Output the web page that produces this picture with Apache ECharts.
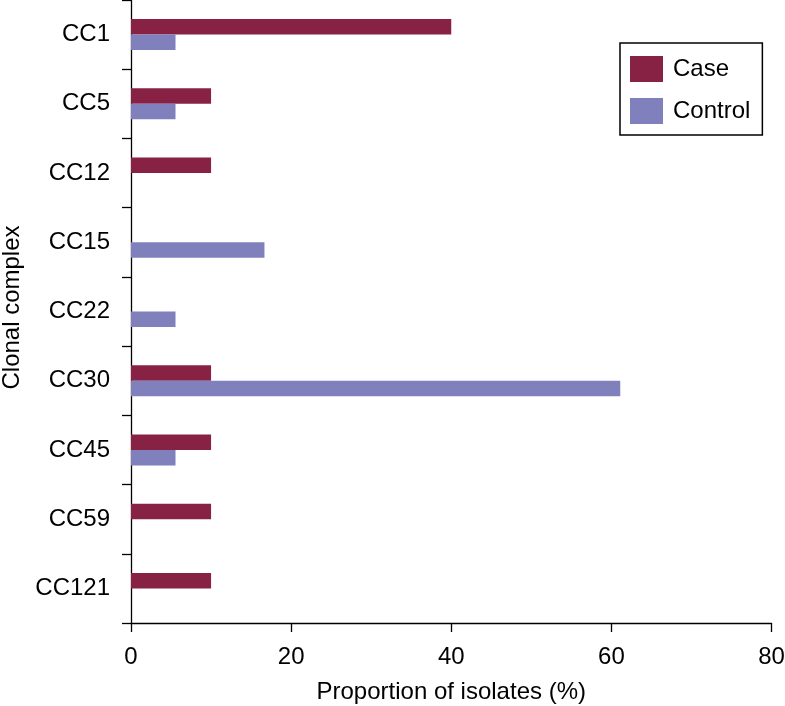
<!DOCTYPE html>
<html><head><meta charset="utf-8">
<script src="https://cdn.jsdelivr.net/npm/echarts@6/dist/echarts.min.js"></script>
<style>html,body{margin:0;padding:0;background:#fff}#c{width:785px;height:706px}</style>
</head><body><div id="c"></div>
<script>
const categories = ['CC1','CC5','CC12','CC15','CC22','CC30','CC45','CC59','CC121'];
const caseValues = [40, 10, 10, 0, 0, 10, 10, 10, 10];
const controlValues = [5.56, 5.56, 0, 16.67, 5.56, 61.11, 5.56, 0, 0];
const xTicks = [0, 20, 40, 60, 80];

const chart = echarts.init(document.getElementById('c'));
const font = 'Liberation Sans, Arial, Helvetica, sans-serif';
chart.setOption({
  animation: false,
  grid: {left: 131, right: 13.5, top: 0, bottom: 83, containLabel: false, outerBoundsMode: 'none'},
  legend: {
    orient: 'vertical', left: 620, top: 43,
    data: ['Case', 'Control'],
    itemWidth: 33, itemHeight: 26, itemGap: 16,
    padding: [13, 12, 11, 10],
    borderColor: '#000', borderWidth: 1.5,
    textStyle: {fontFamily: font, fontSize: 24, color: '#000', padding: [0, 0, 0, 5]},
    icon: 'rect'
  },
  xAxis: {
    type: 'value', min: xTicks[0], max: xTicks[xTicks.length - 1], interval: 20,
    name: 'Proportion of isolates (%)', nameLocation: 'middle', nameGap: 57,
    nameTextStyle: {fontFamily: font, fontSize: 24, color: '#000'},
    axisLine: {show: true, lineStyle: {color: '#000', width: 1.3}},
    axisTick: {show: true, length: 9, lineStyle: {color: '#000', width: 1.3}},
    axisLabel: {fontFamily: font, fontSize: 24, color: '#000', margin: 22},
    splitLine: {show: false}
  },
  yAxis: {
    type: 'category', data: categories, inverse: true,
    name: 'Clonal complex', nameLocation: 'middle', nameGap: 104,
    nameTextStyle: {fontFamily: font, fontSize: 24, color: '#000', padding: [0, 0, 0, 8]},
    axisLine: {show: true, lineStyle: {color: '#000', width: 1.3}},
    axisTick: {show: true, length: 9, alignWithLabel: false, lineStyle: {color: '#000', width: 1.3}},
    axisLabel: {fontFamily: font, fontSize: 24, color: '#000', margin: 21, padding: [5, 0, 0, 0]}
  },
  series: [
    {name: 'Case', type: 'bar', data: caseValues, barWidth: 15.5, barGap: '0%',
     itemStyle: {color: '#872245'}},
    {name: 'Control', type: 'bar', data: controlValues, barWidth: 15.5, barGap: '0%',
     itemStyle: {color: '#8080bc'}}
  ]
});
</script></body></html>
